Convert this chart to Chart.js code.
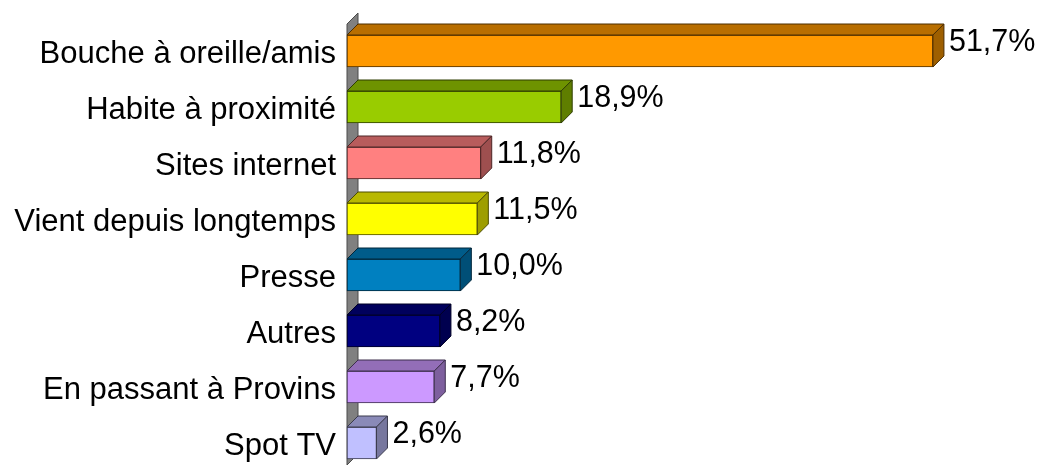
<!DOCTYPE html>
<html>
<head>
<meta charset="utf-8">
<script src="https://cdn.jsdelivr.net/npm/chart.js@4.4.1/dist/chart.umd.min.js"></script>
<style>
  html, body { margin: 0; padding: 0; background: #fff; }
  canvas { display: block; }
</style>
</head>
<body>
<canvas id="myBars" width="1044" height="465"></canvas>
<script>
var categories = ['Bouche à oreille/amis', 'Habite à proximité', 'Sites internet', 'Vient depuis longtemps',
	'Presse', 'Autres', 'En passant à Provins', 'Spot TV'];
var values = [51.7, 18.9, 11.8, 11.5, 10.0, 8.2, 7.7, 2.6];
var valueLabels = ['51,7%', '18,9%', '11,8%', '11,5%', '10,0%', '8,2%', '7,7%', '2,6%'];
var barColors = ['#FF9900', '#99CC00', '#FF8080', '#FFFF00', '#0080C0', '#000080', '#CC99FF', '#C0C0FF'];

var DEPTH = 11;

function shade(hex, f) {
	var n = parseInt(hex.slice(1), 16);
	var r = Math.round(((n >> 16) & 255) * f);
	var g = Math.round(((n >> 8) & 255) * f);
	var b = Math.round((n & 255) * f);
	return 'rgb(' + r + ',' + g + ',' + b + ')';
}

// gray wall + top/side faces + value labels
var bars3d = {
	id: 'bars3d',
	beforeDatasetsDraw: function(chart) {
		var ctx = chart.ctx;
		var meta = chart.getDatasetMeta(0);
		var first = meta.data[0], last = meta.data[meta.data.length - 1];
		var x0 = chart.chartArea.left;
		var top = first.y - first.height / 2 - DEPTH;
		var bottom = last.y + last.height / 2 + 6;
		ctx.save();
		ctx.beginPath();
		ctx.moveTo(x0, top);
		ctx.lineTo(x0 + DEPTH, top - DEPTH);
		ctx.lineTo(x0 + DEPTH, bottom - DEPTH);
		ctx.lineTo(x0, bottom);
		ctx.closePath();
		ctx.fillStyle = '#808080';
		ctx.fill();
		ctx.strokeStyle = '#4a4a4a';
		ctx.lineWidth = 1;
		ctx.stroke();
		ctx.restore();
	},
	afterDatasetsDraw: function(chart) {
		var ctx = chart.ctx;
		var meta = chart.getDatasetMeta(0);
		ctx.save();
		meta.data.forEach(function(bar, i) {
			var t = bar.y - bar.height / 2, b = bar.y + bar.height / 2;
			var l = bar.base, r = bar.x;
			var col = barColors[i];
			ctx.lineWidth = 1;
			ctx.strokeStyle = shade(col, 0.3);
			// top
			ctx.beginPath();
			ctx.moveTo(l, t);
			ctx.lineTo(l + DEPTH, t - DEPTH);
			ctx.lineTo(r + DEPTH, t - DEPTH);
			ctx.lineTo(r, t);
			ctx.closePath();
			ctx.fillStyle = shade(col, 0.72);
			ctx.fill();
			ctx.stroke();
			// side
			ctx.beginPath();
			ctx.moveTo(r, t);
			ctx.lineTo(r + DEPTH, t - DEPTH);
			ctx.lineTo(r + DEPTH, b - DEPTH);
			ctx.lineTo(r, b);
			ctx.closePath();
			ctx.fillStyle = shade(col, 0.62);
			ctx.fill();
			ctx.stroke();
			// value
			ctx.fillStyle = '#000';
			ctx.font = '30.5px "Liberation Sans", Arial, sans-serif';
			ctx.textBaseline = 'alphabetic';
			ctx.textAlign = 'left';
			ctx.fillText(valueLabels[i], r + 16, bar.y);
		});
		ctx.restore();
	}
};

var config = {
	type: 'bar',
	data: {
		labels: categories,
		datasets: [{
			data: values,
			backgroundColor: barColors,
			borderColor: barColors.map(function(c) { return shade(c, 0.3); }),
			borderWidth: 1,
			borderSkipped: false,
			barThickness: 32,
			clip: false
		}]
	},
	options: {
		indexAxis: 'y',
		responsive: false,
		animation: false,
		layout: {
			padding: { top: 51, bottom: 22, left: 0, right: 17 }
		},
		plugins: {
			legend: { display: false },
			tooltip: { enabled: false }
		},
		scales: {
			x: { display: false, min: 0, max: 60 },
			y: {
				offset: false,
				grid: { display: false, drawTicks: false },
				border: { display: false },
				ticks: {
					padding: 11,
					labelOffset: 3,
					color: '#000',
					font: { family: '"Liberation Sans", Arial, sans-serif', size: 31 }
				},
				afterFit: function(scale) {
					scale.width = 347;
					scale.paddingTop = 0;
					scale.paddingBottom = 0;
				}
			}
		}
	},
	plugins: [bars3d]
};

var myBars = new Chart(document.getElementById('myBars'), config);
</script>
</body>
</html>
